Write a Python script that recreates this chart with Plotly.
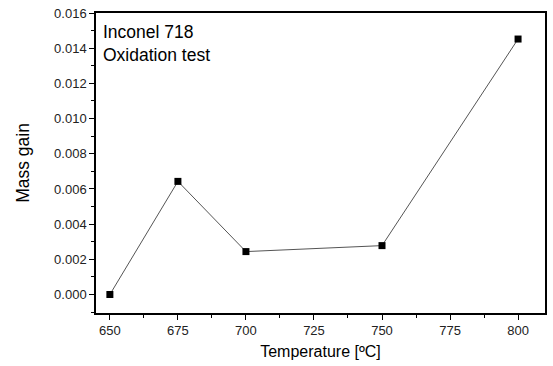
import plotly.graph_objects as go

temperature = [650, 675, 700, 750, 800]
mass_gain = [0.0, 0.00643, 0.00244, 0.00278, 0.01452]

x_ticks = [650, 675, 700, 725, 750, 775, 800]
y_ticks = [0.000, 0.002, 0.004, 0.006, 0.008, 0.010, 0.012, 0.014, 0.016]
y_tick_text = ["%.3f" % v for v in y_ticks]

fig = go.Figure()
fig.add_trace(go.Scatter(
    x=temperature, y=mass_gain, mode="lines+markers",
    line=dict(color="#555555", width=1),
    marker=dict(symbol="square", size=7, color="black"),
    showlegend=False,
))

axis_font = dict(family="Liberation Sans, Arial, sans-serif", size=13, color="#222222")
fig.update_layout(
    width=553, height=366,
    margin=dict(l=96, r=6, t=13, b=53),
    paper_bgcolor="white", plot_bgcolor="white",
    font=dict(family="Liberation Sans, Arial, sans-serif", color="black"),
    xaxis=dict(
        range=[644.9, 809.9], tickvals=x_ticks, ticks="outside", ticklen=5, tickwidth=1,
        tickcolor="black", showline=True, linecolor="black", linewidth=1.5, mirror=True,
        showgrid=False, zeroline=False, tickfont=axis_font,
        minor=dict(ticks="outside", ticklen=3, dtick=12.5, tickcolor="black", showgrid=False),
        title=dict(text="Temperature [ºC]", font=dict(size=16, color="black"), standoff=8),
    ),
    yaxis=dict(
        range=[-0.00105, 0.016], tickvals=y_ticks, ticktext=y_tick_text, ticks="outside",
        ticklen=5, tickwidth=1, tickcolor="black", showline=True, linecolor="black",
        linewidth=1.5, mirror=True, showgrid=False, zeroline=False, tickfont=axis_font,
        minor=dict(ticks="outside", ticklen=3, dtick=0.001, tickcolor="black", showgrid=False),
        title=dict(text="Mass gain", font=dict(size=17.5, color="black"), standoff=20),
    ),
    annotations=[
        dict(text="Inconel 718<br>Oxidation test", xref="paper", yref="paper",
             x=0.011, y=0.977, xanchor="left", yanchor="top", showarrow=False, align="left",
             font=dict(size=17.5, color="black")),
    ],
)

fig.write_html("out.html")
